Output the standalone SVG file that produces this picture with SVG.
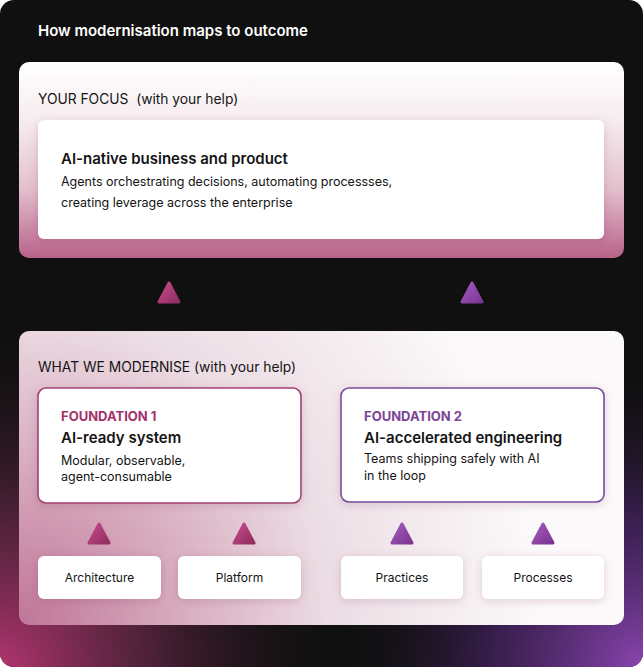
<svg xmlns="http://www.w3.org/2000/svg" width="643" height="667" viewBox="0 0 643 667">
<defs>
<radialGradient id="bgL" cx="0" cy="667" r="340" gradientUnits="userSpaceOnUse">
<stop offset="0" stop-color="#b0356f"/>
<stop offset="0.45" stop-color="#5a2540" stop-opacity="0.8"/>
<stop offset="1" stop-color="#1a1216" stop-opacity="0"/>
</radialGradient>
<radialGradient id="bgR" cx="643" cy="667" r="300" gradientUnits="userSpaceOnUse">
<stop offset="0" stop-color="#8a45b0"/>
<stop offset="0.5" stop-color="#4a2468" stop-opacity="0.7"/>
<stop offset="1" stop-color="#1a1220" stop-opacity="0"/>
</radialGradient>
<linearGradient id="topPanel" x1="0" y1="62" x2="0" y2="258" gradientUnits="userSpaceOnUse">
<stop offset="0" stop-color="#ffffff"/>
<stop offset="0.3" stop-color="#f6ecf0"/>
<stop offset="0.65" stop-color="#e3bfcd"/>
<stop offset="1" stop-color="#b8628a"/>
</linearGradient>
<radialGradient id="botPanel" cx="19" cy="625" r="520" gradientUnits="userSpaceOnUse">
<stop offset="0" stop-color="#c07598"/>
<stop offset="0.3" stop-color="#d7aabd"/>
<stop offset="0.6" stop-color="#ecdde4"/>
<stop offset="1" stop-color="#fbf9fa"/>
</radialGradient>
<linearGradient id="triM" x1="0" y1="0" x2="1" y2="1">
<stop offset="0" stop-color="#c84a8a"/>
<stop offset="1" stop-color="#8f2d62"/>
</linearGradient>
<linearGradient id="triP" x1="0" y1="0" x2="1" y2="1">
<stop offset="0" stop-color="#a55ac0"/>
<stop offset="1" stop-color="#7a3590"/>
</linearGradient>
<filter id="sh" x="-10%" y="-20%" width="120%" height="150%">
<feDropShadow dx="0" dy="2" stdDeviation="4" flood-color="#6a2a48" flood-opacity="0.18"/>
</filter>
<path id="tri" d="M0,-10 L10,9 L-10,9 Z"/>
</defs>
<style>
text{font-family:Inter,"Liberation Sans",sans-serif;fill:#141414;white-space:pre}
.title{font-size:15px;font-weight:600;fill:#ffffff}
.sec{font-size:13.8px;font-weight:400}
.h{font-size:15px;font-weight:600}
.b{font-size:12.5px;font-weight:400}
.tag1{font-size:13px;font-weight:700;fill:#a2336c}
.tag2{font-size:13px;font-weight:700;fill:#7a4598}
.lbl{font-size:12px;font-weight:400;text-anchor:middle}
.card{fill:#ffffff}
.f1{fill:#ffffff;stroke:#a3416f;stroke-width:1.6}
.f2{fill:#ffffff;stroke:#7a4c9c;stroke-width:1.6}
.tm{fill:url(#triM);stroke:url(#triM);stroke-width:3;stroke-linejoin:round}
.tp{fill:url(#triP);stroke:url(#triP);stroke-width:3;stroke-linejoin:round}
</style>
<rect x="0" y="0" width="643" height="667" rx="14" fill="#101010"/>
<rect x="0" y="0" width="643" height="667" rx="14" fill="url(#bgL)"/>
<rect x="0" y="0" width="643" height="667" rx="14" fill="url(#bgR)"/>
<text class="title" x="38" y="36">How modernisation maps to outcome</text>

<g id="your-focus">
<rect x="19" y="62" width="605" height="196" rx="10" fill="url(#topPanel)"/>
<text class="sec" x="38" y="104" xml:space="preserve">YOUR FOCUS  (with your help)</text>
</g>
<g id="ai-native">
<rect class="card" x="38" y="120" width="566" height="119" rx="6" filter="url(#sh)"/>
<text class="h" x="61" y="164">AI-native business and product</text>
<text class="b" x="61" y="186">Agents orchestrating decisions, automating processses,</text>
<text class="b" x="61" y="207">creating leverage across the enterprise</text>
</g>

<g id="what-we-modernise">
<rect x="19" y="331" width="605" height="294" rx="10" fill="url(#botPanel)"/>
<text class="sec" x="38" y="372">WHAT WE MODERNISE (with your help)</text>
</g>
<g id="foundation-1">
<rect class="f1" x="38" y="388" width="263" height="115" rx="8" filter="url(#sh)"/>
<text class="tag1" x="61" y="421">FOUNDATION 1</text>
<text class="h" x="61" y="443">AI-ready system</text>
<text class="b" x="61" y="465">Modular, observable,</text>
<text class="b" x="61" y="481">agent-consumable</text>
</g>
<g id="foundation-2">
<rect class="f2" x="341" y="388" width="263" height="114" rx="8" filter="url(#sh)"/>
<text class="tag2" x="364" y="421">FOUNDATION 2</text>
<text class="h" x="364" y="443">AI-accelerated engineering</text>
<text class="b" x="364" y="463">Teams shipping safely with AI</text>
<text class="b" x="364" y="480">in the loop</text>
</g>
<g id="architecture">
<rect class="card" x="38" y="556" width="123" height="43" rx="6" filter="url(#sh)"/>
<text class="lbl" x="99.5" y="582">Architecture</text>
</g>
<g id="platform">
<rect class="card" x="178" y="556" width="123" height="43" rx="6" filter="url(#sh)"/>
<text class="lbl" x="239.5" y="582">Platform</text>
</g>
<g id="practices">
<rect class="card" x="341" y="556" width="122" height="43" rx="6" filter="url(#sh)"/>
<text class="lbl" x="402" y="582">Practices</text>
</g>
<g id="processes">
<rect class="card" x="482" y="556" width="122" height="43" rx="6" filter="url(#sh)"/>
<text class="lbl" x="543" y="582">Processes</text>
</g>

<g id="connectors">
<use href="#tri" class="tm" x="169" y="293"/>
<use href="#tri" class="tp" x="472" y="293"/>
<use href="#tri" class="tm" x="99" y="534"/>
<use href="#tri" class="tm" x="244" y="534"/>
<use href="#tri" class="tp" x="402" y="534"/>
<use href="#tri" class="tp" x="543" y="534"/>
</g>
</svg>
